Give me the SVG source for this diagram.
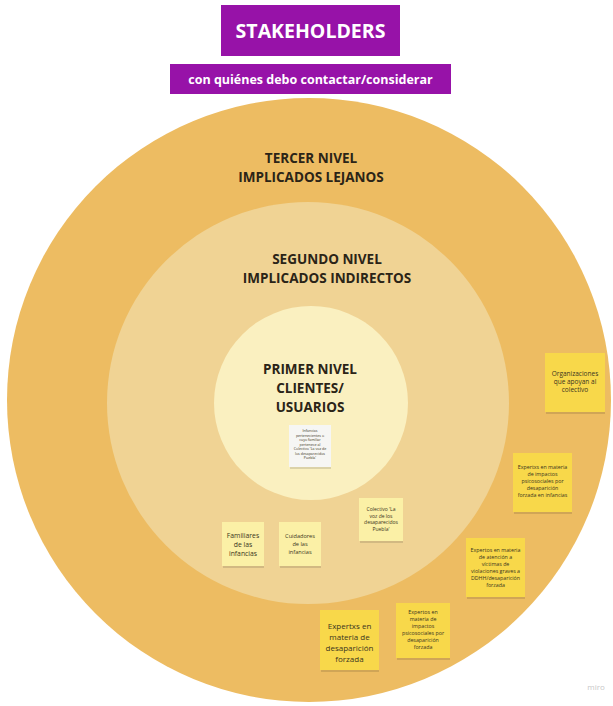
<svg xmlns="http://www.w3.org/2000/svg" width="613" height="706" viewBox="0 0 613 706">
<style>
.lvl{font-family:"Open Sans","Liberation Sans",sans-serif;font-weight:bold;font-size:13.5px;fill:#2b2417;text-anchor:middle}
.st{font-family:"Open Sans","Liberation Sans",sans-serif;fill:#3a3420;text-anchor:middle}
.y{fill:#F8D84A}
.ly{fill:#FBF0A6}
.sh{fill:#000;opacity:0.12}
</style>
<rect width="613" height="706" fill="#ffffff"/>
<g id="rings">
<circle id="outer" cx="309" cy="400" r="302" fill="#EDBC62"/>
<circle id="middle" cx="308" cy="403" r="201" fill="#F0D394"/>
<circle id="inner" cx="311" cy="403" r="97" fill="#FAF0C0"/>
</g>
<g id="title">
<rect x="221" y="5" width="179" height="51" fill="#9712A8"/>
<text x="310.5" y="38" font-family="Open Sans, Liberation Sans, sans-serif" font-weight="bold" font-size="19.5" fill="#fff" text-anchor="middle">STAKEHOLDERS</text>
</g>
<g id="subtitle">
<rect x="170" y="64" width="281" height="30" fill="#9712A8"/>
<text x="310.5" y="84" font-family="Open Sans, Liberation Sans, sans-serif" font-weight="bold" font-size="12.5" fill="#fff" text-anchor="middle">con quiénes debo contactar/considerar</text>
</g>
<g id="level3">
<text class="lvl" x="311" y="163">TERCER NIVEL</text>
<text class="lvl" x="311" y="182">IMPLICADOS LEJANOS</text>
</g>
<g id="level2">
<text class="lvl" x="327" y="264">SEGUNDO NIVEL</text>
<text class="lvl" x="327" y="283">IMPLICADOS INDIRECTOS</text>
</g>
<g id="level1">
<text class="lvl" x="310" y="374">PRIMER NIVEL</text>
<text class="lvl" x="310" y="393">CLIENTES/</text>
<text class="lvl" x="310" y="412">USUARIOS</text>
</g>
<g id="note-infancias">
<rect class="sh" x="290" y="466" width="41" height="3"/>
<rect x="289" y="425" width="42" height="42" fill="#F6F6F4"/>
<text class="st" font-size="3.6"><tspan x="310" y="432">Infancias</tspan><tspan x="310" y="436.5">pertenecientes o</tspan><tspan x="310" y="441">cuyo familiar</tspan><tspan x="310" y="445.5">pertenece al</tspan><tspan x="310" y="450">Colectivo 'La voz de</tspan><tspan x="310" y="454.5">los desaparecidos</tspan><tspan x="310" y="459">Puebla'</tspan></text>
</g>
<g id="note-organizaciones">
<rect class="sh" x="546" y="410" width="59" height="4"/>
<rect class="y" x="545" y="353" width="60" height="59"/>
<text class="st" font-size="6.5"><tspan x="575" y="376">Organizaciones</tspan><tspan x="575" y="384">que apoyan al</tspan><tspan x="575" y="392">colectivo</tspan></text>
</g>
<g id="note-expertxs-infancias">
<rect class="sh" x="514" y="510" width="58" height="4"/>
<rect class="y" x="513" y="453" width="59" height="59"/>
<text class="st" font-size="5.3"><tspan x="542.5" y="469">Expertxs en materia</tspan><tspan x="542.5" y="476">de impactos</tspan><tspan x="542.5" y="483">psicosociales por</tspan><tspan x="542.5" y="490">desaparición</tspan><tspan x="542.5" y="497">forzada en infancias</tspan></text>
</g>
<g id="note-expertos-atencion">
<rect class="sh" x="467" y="595" width="58" height="4"/>
<rect class="y" x="466" y="538" width="59" height="59"/>
<text class="st" font-size="5.3"><tspan x="495.5" y="552">Expertos en materia</tspan><tspan x="495.5" y="559">de atención a</tspan><tspan x="495.5" y="566">víctimas de</tspan><tspan x="495.5" y="573">violaciones graves a</tspan><tspan x="495.5" y="580">DDHH/desaparición</tspan><tspan x="495.5" y="587">forzada</tspan></text>
</g>
<g id="note-expertos-impactos">
<rect class="sh" x="397" y="656" width="53" height="4"/>
<rect class="y" x="396" y="603" width="54" height="55"/>
<text class="st" font-size="5.3"><tspan x="423" y="614">Expertos en</tspan><tspan x="423" y="621">materia de</tspan><tspan x="423" y="628">impactos</tspan><tspan x="423" y="635">psicosociales por</tspan><tspan x="423" y="642">desaparición</tspan><tspan x="423" y="649">forzada</tspan></text>
</g>
<g id="note-expertxs-desaparicion">
<rect class="sh" x="321" y="668" width="58" height="4"/>
<rect class="y" x="320" y="610" width="59" height="60"/>
<text class="st" font-size="8"><tspan x="349.5" y="629">Expertxs en</tspan><tspan x="349.5" y="640">materia de</tspan><tspan x="349.5" y="651">desaparición</tspan><tspan x="349.5" y="662">forzada</tspan></text>
</g>
<g id="note-familiares">
<rect class="sh" x="223" y="564" width="41" height="4"/>
<rect class="ly" x="222" y="522" width="42" height="44"/>
<text class="st" font-size="6.8"><tspan x="243" y="538">Familiares</tspan><tspan x="243" y="547">de las</tspan><tspan x="243" y="556">infancias</tspan></text>
</g>
<g id="note-cuidadores">
<rect class="sh" x="280" y="564" width="41" height="4"/>
<rect class="ly" x="279" y="522" width="42" height="44"/>
<text class="st" font-size="5.6"><tspan x="300" y="538">Cuidadores</tspan><tspan x="300" y="546">de las</tspan><tspan x="300" y="554">infancias</tspan></text>
</g>
<g id="note-colectivo">
<rect class="sh" x="360" y="539" width="43" height="4"/>
<rect class="ly" x="359" y="498" width="44" height="43"/>
<text class="st" font-size="5"><tspan x="381" y="511">Colectivo 'La</tspan><tspan x="381" y="517.5">voz de los</tspan><tspan x="381" y="524">desaparecidos</tspan><tspan x="381" y="530.5">Puebla'</tspan></text>
</g>
<text x="596" y="690" font-family="Open Sans, Liberation Sans, sans-serif" font-size="8" fill="#c8c8c8" text-anchor="middle">miro</text>
</svg>
